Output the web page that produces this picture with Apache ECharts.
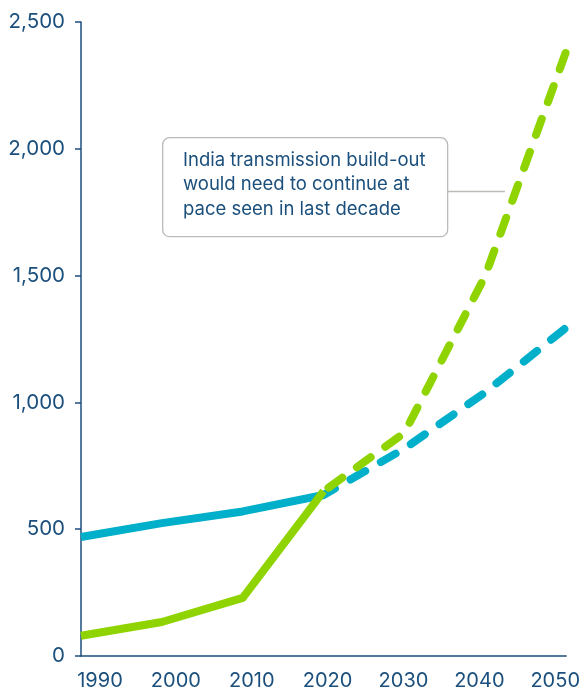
<!DOCTYPE html>
<html>
<head>
<meta charset="utf-8">
<script src="https://cdn.jsdelivr.net/npm/echarts@6/dist/echarts.min.js"></script>
<style>
  html, body { margin: 0; padding: 0; background: #fff; }
  #chart { width: 583px; height: 691px; }
</style>
</head>
<body>
<div id="chart"></div>
<script>
// Transmission network length, historical and required pathway
const years = [1990, 2000, 2010, 2020, 2030, 2040, 2050];
const yearLabels = ['1990', '2000', '2010', '2020', '2030', '2040', '2050'];
const baseline = [469, 524, 570, 635, 818, 1040, 1295];   // blue
const india = [80, 134, 229, 650, 880, 1500, 2385];       // green
const yTicks = [0, 500, 1000, 1500, 2000, 2500];
const lastHistoricYear = 2020;
const noteLines = [
  'India transmission build-out',
  'would need to continue at',
  'pace seen in last decade'
];

const NAVY = '#1b4f7c';
const BLUE = '#00afc9';
const GREEN = '#8fd400';

function pairs(vals, keep) {
  return years.map((y, i) => [y, vals[i]]).filter(p => keep(p[0]));
}
const hist = y => y <= lastHistoricYear;
const proj = y => y >= lastHistoricYear;

const dashed = { type: [17, 18], width: 8, cap: 'round', join: 'round' };
const solid = { type: 'solid', width: 8, cap: 'butt', join: 'round' };

const chart = echarts.init(document.getElementById('chart'), null, { renderer: 'canvas' });

const font = 'Inter, "Noto Sans", sans-serif';

chart.setOption({
  animation: false,
  backgroundColor: '#ffffff',
  grid: { left: 81, right: 16, top: 22, bottom: 35, containLabel: false },
  xAxis: [
    {
      type: 'value', min: years[0], max: years[years.length - 1],
      axisLine: { show: true, lineStyle: { color: NAVY, width: 1.5 } },
      axisTick: { show: false },
      axisLabel: { show: false },
      splitLine: { show: false }
    },
    {
      // label row for the decades
      type: 'value', min: 1987.5, max: 2051.45, position: 'bottom',
      axisLine: { show: false },
      axisTick: { show: false },
      splitLine: { show: false },
      axisLabel: {
        show: true,
        customValues: years,
        formatter: v => yearLabels[years.indexOf(Math.round(v))] || '',
        color: NAVY, fontSize: 20, fontFamily: font, margin: 15
      }
    }
  ],
  yAxis: {
    type: 'value', min: 0, max: 2500, interval: 500,
    axisLine: { show: true, lineStyle: { color: NAVY, width: 1.5 } },
    axisTick: { show: true, length: 6, lineStyle: { color: NAVY, width: 1.5 } },
    axisLabel: {
      color: NAVY, fontSize: 20.5, fontFamily: font, margin: 16,
      formatter: v => yTicks.includes(v) ? v.toLocaleString('en-US') : ''
    },
    splitLine: { show: false }
  },
  series: [
    { type: 'line', xAxisIndex: 0, data: pairs(baseline, hist), symbol: 'none',
      lineStyle: Object.assign({ color: BLUE }, solid), z: 2 },
    { type: 'line', xAxisIndex: 0, data: pairs(baseline, proj), symbol: 'none',
      lineStyle: Object.assign({ color: BLUE, dashOffset: 4 }, dashed), z: 2 },
    { type: 'line', xAxisIndex: 0, data: pairs(india, hist), symbol: 'none',
      lineStyle: Object.assign({ color: GREEN }, solid), z: 3 },
    { type: 'line', xAxisIndex: 0, data: pairs(india, proj), symbol: 'none',
      lineStyle: Object.assign({ color: GREEN, dashOffset: -6 }, dashed), z: 3 }
  ],
  graphic: [
    {
      type: 'rect', left: 162, top: 137, z: 10,
      shape: { width: 285, height: 99, r: 7 },
      style: { fill: '#ffffff', stroke: '#bdbab8', lineWidth: 1.3 }
    },
    {
      type: 'line', z: 10,
      shape: { x1: 447, y1: 191.5, x2: 505, y2: 191.5 },
      style: { stroke: '#bdbab8', lineWidth: 1.3 }
    },
    {
      type: 'text', left: 183, top: 148, z: 11,
      style: {
        text: noteLines.join('\n'),
        fill: NAVY, font: '18.5px ' + font, lineHeight: 24.5
      }
    }
  ]
});
</script>
</body>
</html>
